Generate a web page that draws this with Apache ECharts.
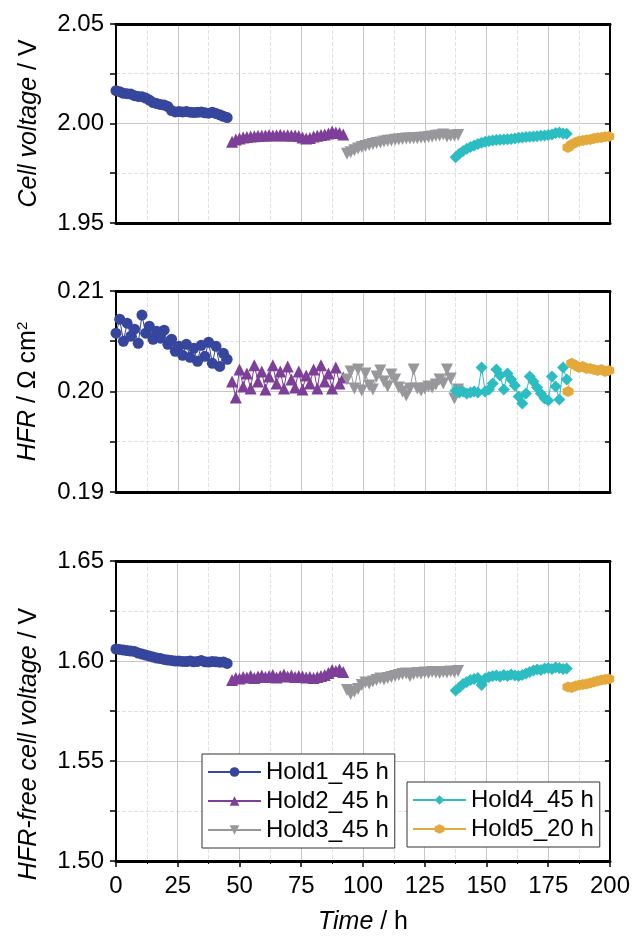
<!DOCTYPE html>
<html>
<head>
<meta charset="utf-8">
<script src="https://cdn.jsdelivr.net/npm/echarts@6/dist/echarts.min.js"></script>
<style>
html,body{margin:0;padding:0;background:#fff;}
#c{width:633px;height:936px;}
</style>
</head>
<body>
<div id="c"></div>
<script>
// ---- Time (h) for each hold ----
const t1 = [0,1.5,3,4.5,6,7.5,9,10.5,12,13.5,15,16.5,18,19.5,21,22.5,24,25.5,27,28.5,30,31.5,33,34.5,36,37.5,39,40.5,42,43.5,45];
const t2 = [47,48.5,50,51.5,53,54.5,56,57.5,59,60.5,62,63.5,65,66.5,68,69.5,71,72.5,74,75.5,77,78.5,80,81.5,83,84.5,86,87.5,89,90.5,92];
const t3 = [93.5,95,96.5,98,99.5,101,102.5,104,105.5,107,108.5,110,111.5,113,114.5,116,117.5,119,120.5,122,123.5,125,126.5,128,129.5,131,132.5,134,135.5,137,138.5];
const t4 = [137.5,139,140.5,142,143.5,145,146.5,148,149.5,151,152.5,154,155.5,157,158.5,160,161.5,163,164.5,166,167.5,169,170.5,172,173.5,175,176.5,178,179.5,181,182.5];
const t5 = [183,184.5,186,187.5,189,190.5,192,193.5,195,196.5,198,199.5];

// ---- Cell voltage / V ----
const cv1 = [2.0165,2.0160,2.0152,2.0150,2.0148,2.0140,2.0136,2.0135,2.0128,2.0118,2.0105,2.0100,2.0095,2.0093,2.0085,2.0065,2.0058,2.0060,2.0058,2.0060,2.0057,2.0055,2.0056,2.0058,2.0054,2.0052,2.0057,2.0050,2.0044,2.0036,2.0030];
const cv2 = [1.9908,1.9920,1.9925,1.9930,1.9932,1.9935,1.9936,1.9938,1.9939,1.9940,1.9942,1.9940,1.9941,1.9943,1.9940,1.9941,1.9940,1.9940,1.9937,1.9930,1.9925,1.9927,1.9935,1.9938,1.9942,1.9945,1.9950,1.9960,1.9955,1.9952,1.9945];
const cv3 = [1.9848,1.9855,1.9865,1.9875,1.9882,1.9887,1.9892,1.9897,1.9902,1.9905,1.9910,1.9913,1.9915,1.9918,1.9920,1.9922,1.9924,1.9925,1.9926,1.9926,1.9928,1.9930,1.9932,1.9935,1.9938,1.9940,1.9945,1.9935,1.9938,1.9940,1.9942];
const cv4 = [1.9830,1.9848,1.9862,1.9873,1.9882,1.9890,1.9897,1.9903,1.9908,1.9912,1.9915,1.9917,1.9918,1.9920,1.9921,1.9922,1.9925,1.9928,1.9930,1.9932,1.9934,1.9935,1.9936,1.9938,1.9940,1.9942,1.9945,1.9952,1.9955,1.9950,1.9948];
const cv5 = [1.9880,1.9895,1.9905,1.9912,1.9915,1.9918,1.9920,1.9924,1.9928,1.9930,1.9933,1.9935];

// ---- HFR / Ohm cm2 ----
const hfr1 = [0.2058,0.2072,0.2050,0.2068,0.2055,0.2062,0.2048,0.2076,0.2058,0.2065,0.2052,0.2060,0.2053,0.2061,0.2047,0.2052,0.2040,0.2045,0.2036,0.2047,0.2034,0.2043,0.2030,0.2046,0.2035,0.2049,0.2028,0.2045,0.2025,0.2038,0.2032];
const hfr2 = [0.2010,0.1994,0.2022,0.2005,0.2018,0.2003,0.2026,0.2010,0.2020,0.2002,0.2015,0.2026,0.2008,0.2020,0.2003,0.2025,0.2012,0.2004,0.2020,0.2002,0.2016,0.2008,0.2022,0.2003,0.2026,0.2010,0.2018,0.2003,0.2024,0.2008,0.2014];
const hfr3 = [0.2012,0.2020,0.2003,0.2022,0.2001,0.2018,0.2006,0.2002,0.2015,0.2021,0.2010,0.2005,0.2017,0.2012,0.2004,0.2000,0.1996,0.2003,0.2022,0.2003,0.2001,0.2003,0.2005,0.2004,0.2007,0.2012,0.2008,0.2022,0.2013,0.1993,0.2002];
const hfr4 = [0.2001,0.1999,0.2000,0.1998,0.1999,0.2000,0.1999,0.2024,0.2000,0.2002,0.2008,0.2022,0.2016,0.2002,0.2018,0.2012,0.2006,0.1995,0.1988,0.1998,0.2015,0.2010,0.2004,0.1998,0.1993,0.1991,0.2015,0.2005,0.1992,0.2024,0.2012];
const hfr5 = [0.2000,0.2028,0.2026,0.2024,0.2025,0.2023,0.2023,0.2022,0.2021,0.2022,0.2020,0.2021];

// ---- HFR-free cell voltage / V ----
const fv1 = [1.6060,1.6058,1.6055,1.6052,1.6050,1.6048,1.6040,1.6035,1.6030,1.6025,1.6020,1.6015,1.6012,1.6008,1.6005,1.6003,1.6000,1.6000,1.5998,1.5997,1.6000,1.5996,1.5998,1.6002,1.5996,1.5995,1.5998,1.5996,1.5994,1.5995,1.5988];
const fv2 = [1.5905,1.5915,1.5912,1.5920,1.5918,1.5925,1.5915,1.5922,1.5928,1.5920,1.5925,1.5930,1.5918,1.5925,1.5932,1.5922,1.5928,1.5920,1.5925,1.5922,1.5918,1.5920,1.5915,1.5920,1.5925,1.5930,1.5940,1.5955,1.5950,1.5958,1.5945];
const fv3 = [1.5855,1.5835,1.5848,1.5860,1.5880,1.5892,1.5888,1.5898,1.5905,1.5912,1.5908,1.5915,1.5920,1.5925,1.5930,1.5935,1.5938,1.5925,1.5935,1.5940,1.5938,1.5942,1.5940,1.5945,1.5942,1.5940,1.5945,1.5943,1.5948,1.5945,1.5950];
const fv4 = [1.5852,1.5868,1.5885,1.5895,1.5905,1.5910,1.5915,1.5880,1.5912,1.5920,1.5925,1.5928,1.5922,1.5930,1.5925,1.5932,1.5928,1.5925,1.5930,1.5938,1.5945,1.5952,1.5958,1.5955,1.5962,1.5965,1.5960,1.5968,1.5965,1.5960,1.5962];
const fv5 = [1.5870,1.5868,1.5875,1.5880,1.5882,1.5885,1.5890,1.5895,1.5900,1.5905,1.5908,1.5910];

// ---- names / axes ----
const names = ['Hold1_45 h','Hold2_45 h','Hold3_45 h','Hold4_45 h','Hold5_20 h'];
const xTicks = [0,200,25];
const yRanges = [[1.95,2.05,0.05],[0.19,0.21,0.01],[1.50,1.65,0.05]];
const yTitles = ['{i|Cell voltage} / V','{i|HFR} / Ω cm{s|2}','{i|HFR-free cell voltage} / V'];

const colors = ['#35469c','#7d3f98','#98989c','#2bbdc1','#e5a93b'];
const symbols = ['circle','triangle','path://M0,0 L10,0 L5,8.66 Z','diamond','path://M5,0 L9.33,2.5 L9.33,7.5 L5,10 L0.67,7.5 L0.67,2.5 Z'];
const symSizes = [11,12,12,12,11];

const FONT = '"Liberation Sans", Arial, sans-serif';
const LBL = 24, TTL = 25;
const times = [t1,t2,t3,t4,t5];
const panels = [[cv1,cv2,cv3,cv4,cv5],[hfr1,hfr2,hfr3,hfr4,hfr5],[fv1,fv2,fv3,fv4,fv5]];
const titlePad = [[0,0,0,0],[0,0,0,0],[0,66,0,0]];

const grids = [
  {left:116, right:23, top:24, height:199},
  {left:116, right:23, top:291, height:201},
  {left:116, right:23, top:561, height:300}
];

const richT = {
  i:{fontStyle:'italic', fontSize:TTL, color:'#000', fontFamily:FONT},
  s:{fontSize:15, color:'#000', fontFamily:FONT, verticalAlign:'top', padding:[0,0,12,0]}
};

const xAxes = [], yAxes = [], series = [];
grids.forEach((g, i) => {
  const isLast = i === 2;
  xAxes.push({
    gridIndex:i, type:'value', position:'bottom',
    min:xTicks[0], max:xTicks[1], interval:xTicks[2],
    name: isLast ? '{i|Time} / h' : '',
    nameLocation:'middle', nameGap:49,
    nameTextStyle:{fontSize:TTL, color:'#000', fontFamily:FONT, rich:richT},
    axisLine:{show:true, onZero:false, lineStyle:{color:'#000', width:3}},
    axisTick:{show:isLast, inside:false, length:6, lineStyle:{color:'#000', width:1.5}},
    minorTick:{show:isLast, splitNumber:2, length:3, lineStyle:{color:'#000', width:1}},
    axisLabel:{show:isLast, fontSize:LBL, color:'#000', fontFamily:FONT, margin:13},
    splitLine:{show:true, lineStyle:{color:'#c6c6c6', width:1}},
    minorSplitLine:{show:true, lineStyle:{color:'#e0e0e0', width:1, type:'dashed'}}
  });
  xAxes.push({
    gridIndex:i, type:'value', position:'top',
    min:xTicks[0], max:xTicks[1], interval:xTicks[2],
    axisLine:{show:true, onZero:false, lineStyle:{color:'#000', width:3}},
    axisTick:{show:false}, axisLabel:{show:false}, splitLine:{show:false}
  });
  const yr = yRanges[i];
  yAxes.push({
    gridIndex:i, type:'value', position:'left',
    min:yr[0], max:yr[1], interval:yr[2],
    name:yTitles[i], nameLocation:'middle', nameGap:74,
    nameTextStyle:{fontSize:TTL, color:'#000', fontFamily:FONT, rich:richT, padding:titlePad[i]},
    axisLine:{show:true, onZero:false, lineStyle:{color:'#000', width:2}},
    axisTick:{show:true, inside:false, length:6, lineStyle:{color:'#000', width:1.5}},
    minorTick:{show:true, splitNumber:2, length:6, lineStyle:{color:'#000', width:1.5}},
    axisLabel:{show:true, fontSize:LBL, color:'#000', fontFamily:FONT, margin:12,
      formatter: v => v.toFixed(2)},
    splitLine:{show:true, lineStyle:{color:'#c6c6c6', width:1}},
    minorSplitLine:{show:true, lineStyle:{color:'#e0e0e0', width:1, type:'dashed'}}
  });
  yAxes.push({
    gridIndex:i, type:'value', position:'right',
    min:yr[0], max:yr[1], interval:yr[2],
    axisLine:{show:true, onZero:false, lineStyle:{color:'#000', width:2}},
    axisTick:{show:true, inside:true, length:5, lineStyle:{color:'#000', width:1.5}},
    minorTick:{show:true, splitNumber:2, length:5, lineStyle:{color:'#000', width:1.5}},
    axisLabel:{show:false}, splitLine:{show:false}
  });
  panels[i].forEach((vals, k) => {
    const tt = times[k];
    const data = vals.map((v, j) => [tt[j], v]).filter(p => p[0] !== undefined);
    series.push({
      name:names[k], type:'line', xAxisIndex:i*2, yAxisIndex:i*2,
      data, symbol:symbols[k], symbolSize:symSizes[k], showAllSymbol:true,
      lineStyle:{color:colors[k], width:1},
      itemStyle:{color:colors[k], borderWidth:0},
      emphasis:{disabled:true}, animation:false
    });
  });
});

const legendCommon = {
  orient:'vertical', itemWidth:53, itemHeight:12, itemGap:5, itemTextGap:7,
  borderColor:'#333', borderWidth:1, backgroundColor:'#fff',
  textStyle:{fontSize:LBL, color:'#000', fontFamily:FONT, lineHeight:24},
  selectedMode:false
};

const option = {
  backgroundColor:'#fff',
  animation:false,
  grid:grids,
  xAxis:xAxes,
  yAxis:yAxes,
  legend:[
    Object.assign({data:names.slice(0,3), left:202, top:754, padding:[6,6,6,5]}, legendCommon),
    Object.assign({data:names.slice(3), left:407, top:782, padding:[6,6,6,5]}, legendCommon)
  ],
  series
};
const chart = echarts.init(document.getElementById('c'), null, {renderer:'canvas'});
chart.setOption(option);
</script>
</body>
</html>
